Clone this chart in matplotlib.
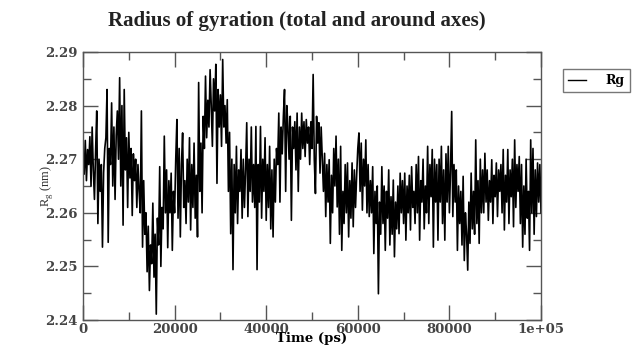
import numpy as np
import matplotlib.pyplot as plt
from matplotlib.ticker import MultipleLocator, FixedLocator

# sampling step of the Rg trace (ps)
STEP_PS = 250

# Rg (nm), one row per 2500 ps
rg_rows = [
    [2.2705, 2.2672, 2.2735, 2.2660, 2.2718, 2.2690, 2.2742, 2.2650, 2.2760, 2.2680],
    [2.2625, 2.2715, 2.2790, 2.2580, 2.2700, 2.2640, 2.2690, 2.2536, 2.2675, 2.2720],
    [2.2740, 2.2830, 2.2545, 2.2720, 2.2690, 2.2805, 2.2650, 2.2760, 2.2625, 2.2745],
    [2.2790, 2.2700, 2.2852, 2.2650, 2.2800, 2.2577, 2.2830, 2.2680, 2.2740, 2.2610],
    [2.2750, 2.2665, 2.2720, 2.2595, 2.2710, 2.2660, 2.2700, 2.2610, 2.2690, 2.2640],
    [2.2600, 2.2790, 2.2536, 2.2660, 2.2560, 2.2600, 2.2490, 2.2575, 2.2455, 2.2540],
    [2.2505, 2.2618, 2.2480, 2.2560, 2.2411, 2.2590, 2.2540, 2.2686, 2.2500, 2.2610],
    [2.2570, 2.2743, 2.2600, 2.2680, 2.2535, 2.2660, 2.2600, 2.2674, 2.2530, 2.2640],
    [2.2600, 2.2700, 2.2774, 2.2590, 2.2720, 2.2555, 2.2690, 2.2749, 2.2610, 2.2660],
    [2.2580, 2.2700, 2.2620, 2.2740, 2.2568, 2.2690, 2.2610, 2.2730, 2.2590, 2.2670],
    [2.2555, 2.2843, 2.2640, 2.2730, 2.2600, 2.2780, 2.2720, 2.2855, 2.2740, 2.2810],
    [2.2760, 2.2867, 2.2800, 2.2724, 2.2850, 2.2790, 2.2877, 2.2655, 2.2830, 2.2760],
    [2.2820, 2.2724, 2.2886, 2.2760, 2.2800, 2.2730, 2.2811, 2.2640, 2.2750, 2.2561],
    [2.2700, 2.2494, 2.2690, 2.2600, 2.2724, 2.2580, 2.2680, 2.2640, 2.2718, 2.2590],
    [2.2700, 2.2610, 2.2680, 2.2768, 2.2593, 2.2700, 2.2640, 2.2760, 2.2620, 2.2690],
    [2.2610, 2.2761, 2.2494, 2.2690, 2.2620, 2.2761, 2.2590, 2.2700, 2.2640, 2.2740],
    [2.2586, 2.2690, 2.2610, 2.2724, 2.2570, 2.2680, 2.2555, 2.2700, 2.2620, 2.2720],
    [2.2690, 2.2786, 2.2620, 2.2760, 2.2710, 2.2780, 2.2830, 2.2640, 2.2800, 2.2760],
    [2.2700, 2.2780, 2.2586, 2.2760, 2.2720, 2.2770, 2.2680, 2.2786, 2.2640, 2.2760],
    [2.2700, 2.2786, 2.2720, 2.2770, 2.2705, 2.2774, 2.2730, 2.2760, 2.2690, 2.2770],
    [2.2720, 2.2858, 2.2700, 2.2636, 2.2780, 2.2730, 2.2768, 2.2674, 2.2760, 2.2700],
    [2.2640, 2.2711, 2.2593, 2.2690, 2.2620, 2.2699, 2.2543, 2.2670, 2.2600, 2.2720],
    [2.2650, 2.2743, 2.2611, 2.2700, 2.2560, 2.2724, 2.2530, 2.2640, 2.2580, 2.2690],
    [2.2600, 2.2693, 2.2555, 2.2660, 2.2590, 2.2693, 2.2574, 2.2680, 2.2610, 2.2670],
    [2.2720, 2.2749, 2.2640, 2.2730, 2.2605, 2.2700, 2.2650, 2.2736, 2.2600, 2.2690],
    [2.2593, 2.2660, 2.2600, 2.2686, 2.2524, 2.2640, 2.2580, 2.2650, 2.2449, 2.2620],
    [2.2560, 2.2686, 2.2580, 2.2650, 2.2530, 2.2640, 2.2590, 2.2680, 2.2540, 2.2630],
    [2.2560, 2.2661, 2.2518, 2.2620, 2.2570, 2.2650, 2.2561, 2.2674, 2.2600, 2.2660],
    [2.2580, 2.2674, 2.2549, 2.2650, 2.2600, 2.2670, 2.2568, 2.2686, 2.2610, 2.2640],
    [2.2580, 2.2690, 2.2600, 2.2705, 2.2549, 2.2660, 2.2620, 2.2700, 2.2570, 2.2650],
    [2.2600, 2.2724, 2.2580, 2.2690, 2.2630, 2.2718, 2.2536, 2.2700, 2.2620, 2.2690],
    [2.2549, 2.2700, 2.2620, 2.2724, 2.2580, 2.2680, 2.2549, 2.2710, 2.2620, 2.2724],
    [2.2600, 2.2680, 2.2789, 2.2593, 2.2690, 2.2620, 2.2680, 2.2530, 2.2650, 2.2580],
    [2.2640, 2.2540, 2.2668, 2.2511, 2.2600, 2.2560, 2.2493, 2.2620, 2.2543, 2.2674],
    [2.2570, 2.2640, 2.2560, 2.2736, 2.2580, 2.2660, 2.2543, 2.2700, 2.2600, 2.2680],
    [2.2600, 2.2711, 2.2620, 2.2680, 2.2586, 2.2660, 2.2620, 2.2699, 2.2580, 2.2670],
    [2.2630, 2.2693, 2.2593, 2.2680, 2.2640, 2.2690, 2.2600, 2.2718, 2.2568, 2.2670],
    [2.2620, 2.2718, 2.2580, 2.2680, 2.2630, 2.2700, 2.2574, 2.2736, 2.2610, 2.2690],
    [2.2640, 2.2705, 2.2580, 2.2690, 2.2536, 2.2650, 2.2560, 2.2700, 2.2590, 2.2640],
    [2.2530, 2.2736, 2.2600, 2.2720, 2.2560, 2.2680, 2.2593, 2.2693, 2.2620, 2.2690],
    [2.2600],
]

x_ticks = [0, 20000, 40000, 60000, 80000, 100000]
x_tick_labels = ["0", "20000", "40000", "60000", "80000", "1e+05"]
y_ticks = [2.24, 2.25, 2.26, 2.27, 2.28, 2.29]
y_tick_labels = ["2.24", "2.25", "2.26", "2.27", "2.28", "2.29"]

rg = np.array([v for row in rg_rows for v in row])
time_ps = np.arange(len(rg)) * STEP_PS

plt.rcParams['font.family'] = ['Liberation Serif', 'DejaVu Serif']
# the reference text is wide, so ticks and labels use the wider serif
wide = ['DejaVu Serif', 'Liberation Serif']

fig = plt.figure(figsize=(6.37, 3.45), dpi=100)
ax = fig.add_axes([83 / 637, 25 / 345, 458 / 637, 268 / 345])

line, = ax.plot(time_ps, rg, color='black', lw=1.2, label='Rg')

ax.set_xlim(0, 100000)
ax.set_ylim(2.24, 2.29)
ax.xaxis.set_major_locator(FixedLocator(x_ticks))
ax.set_xticklabels(x_tick_labels)
ax.xaxis.set_minor_locator(MultipleLocator(10000))
ax.yaxis.set_major_locator(FixedLocator(y_ticks))
ax.set_yticklabels(y_tick_labels)
ax.yaxis.set_minor_locator(MultipleLocator(0.005))

axis_grey = '#555555'
for s in ax.spines.values():
    s.set_color(axis_grey)
    s.set_linewidth(1.0)
ax.tick_params(which='both', direction='in', top=True, right=True,
               color=axis_grey, width=1.0, labelcolor='#444444')
ax.tick_params(axis='x', pad=2)
ax.tick_params(axis='y', pad=4)
ax.tick_params(which='major', length=11)
ax.tick_params(which='minor', length=6)
for lab in ax.get_xticklabels() + ax.get_yticklabels():
    lab.set_fontweight('bold')
    lab.set_family(wide)
    lab.set_fontsize(9.5)

ax.set_xlabel('Time (ps)', fontsize=9.5, fontweight='bold', family=wide, labelpad=-3)
ax.set_ylabel('R$_\\mathregular{g}$ (nm)', fontsize=9, color='#333333')
ax.yaxis.set_label_coords(-0.062, 0.5)

fig.text(297 / 637, 0.94, 'Radius of gyration (total and around axes)',
         ha='center', va='center', fontsize=15, fontweight='bold', color='#222222')

leg = fig.legend(handles=[line], loc='upper left', bbox_to_anchor=(563 / 637, 1 - 69 / 345),
                 frameon=True, fancybox=False, handlelength=1.4, handletextpad=1.6,
                 borderpad=0.4, borderaxespad=0,
                 prop={'weight': 'bold', 'size': 9, 'family': wide})
leg.get_frame().set_edgecolor(axis_grey)
leg.get_frame().set_linewidth(1.0)
leg.get_lines()[0].set_linewidth(1.0)

fig.savefig('out.png', dpi=100)
